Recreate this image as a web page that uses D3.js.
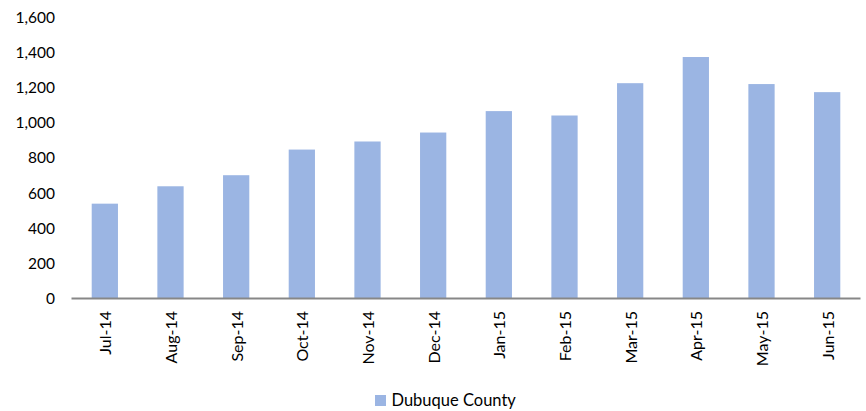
<!DOCTYPE html>
<html>
<head>
<meta charset="utf-8">
<script src="https://cdn.jsdelivr.net/npm/d3@7"></script>
<style>
  body { margin: 0; background: #fff; }
  text { font-family: Lato, "Open Sans", sans-serif; fill: #000; }
</style>
</head>
<body>
<svg id="figure"></svg>
<script>
var months = ["Jul-14", "Aug-14", "Sep-14", "Oct-14", "Nov-14", "Dec-14",
              "Jan-15", "Feb-15", "Mar-15", "Apr-15", "May-15", "Jun-15"];
var dubuque = [540, 639, 702, 848, 894, 945, 1067, 1042, 1226, 1375, 1221, 1175];
var yTicks = [0, 200, 400, 600, 800, 1000, 1200, 1400, 1600];
var seriesName = "Dubuque County";

var fullWidth = 866, fullHeight = 411;
var margin = { top: 17.5, left: 72, right: 6, bottom: 112.5 };
var width = fullWidth - margin.left - margin.right;
var height = fullHeight - margin.top - margin.bottom;

var svg = d3.select("#figure")
    .attr("width", fullWidth)
    .attr("height", fullHeight);

var g = svg.append("g")
    .attr("transform", "translate(" + margin.left + "," + margin.top + ")");

var x = d3.scaleBand().domain(months).range([0, width]).paddingInner(0.6).paddingOuter(0.3);
var y = d3.scaleLinear().domain([0, 1600]).range([height, 0]);

// bars
g.selectAll("rect.bar")
    .data(dubuque)
    .enter().append("rect")
    .attr("class", "bar")
    .attr("x", function (d, i) { return x(months[i]); })
    .attr("y", function (d) { return y(d); })
    .attr("width", x.bandwidth())
    .attr("height", function (d) { return height - y(d); })
    .attr("fill", "#9bb5e3");

// y axis, labels only
var yAxis = d3.axisLeft(y).tickValues(yTicks).tickSize(0).tickPadding(17)
    .tickFormat(d3.format(","));
var yg = g.append("g").call(yAxis);
yg.select(".domain").remove();
yg.selectAll("text").style("font-size", "15.5px").attr("fill", "#000");

// x axis
var xAxis = d3.axisBottom(x).tickSize(0).tickPadding(0);
var xg = g.append("g").attr("transform", "translate(0," + height + ")").call(xAxis);
xg.select(".domain").attr("stroke", "#878787").attr("stroke-width", 2)
    .attr("d", "M" + (-0.5) + ",0H" + (width + 0.5));
xg.selectAll("text")
    .style("font-size", "16px")
    .attr("fill", "#000")
    .attr("text-anchor", "end")
    .attr("dy", "0.35em")
    .attr("transform", "translate(1,12.5) rotate(-90)");

// legend
var legend = svg.append("g").attr("transform", "translate(375,395)");
legend.append("rect").attr("width", 11).attr("height", 11).attr("fill", "#9bb5e3");
legend.append("text").attr("x", 16.5).attr("y", 5.5).attr("dy", "0.35em")
    .style("font-size", "16.5px").text(seriesName);
</script>
</body>
</html>
